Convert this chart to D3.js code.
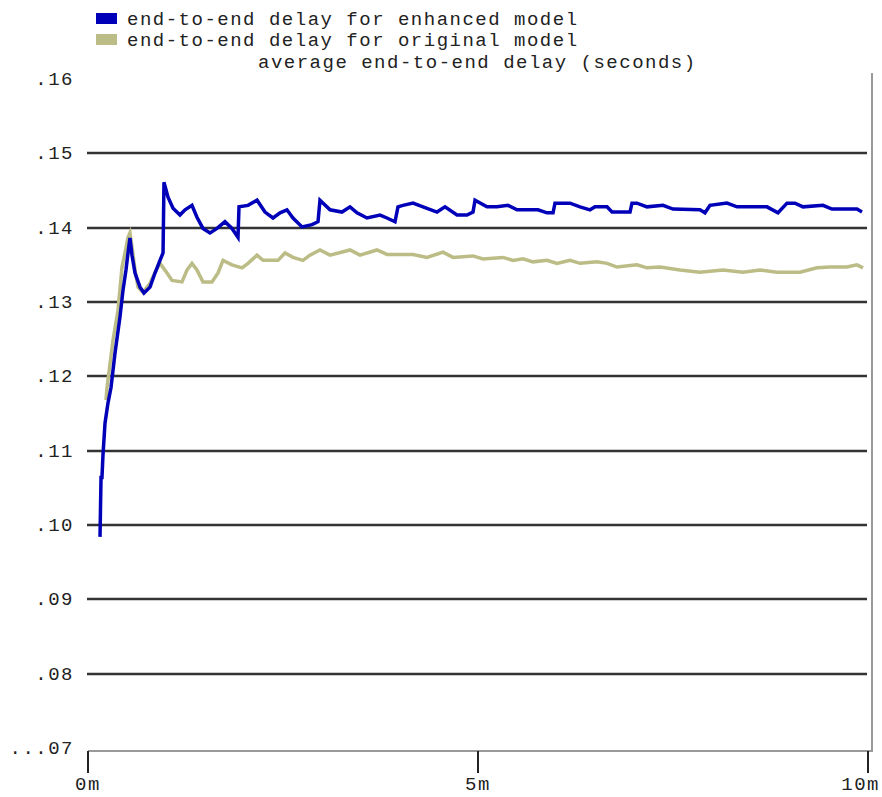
<!DOCTYPE html>
<html>
<head>
<meta charset="utf-8">
<script src="https://cdn.jsdelivr.net/npm/d3@7"></script>
<style>
  body { margin: 0; background: #fff; }
  text { font-family: "Liberation Mono", "DejaVu Sans Mono", monospace; fill: #222; }
</style>
</head>
<body>
<script>
// series names
const seriesNames = ["end-to-end delay for enhanced model", "end-to-end delay for original model"]
const chartTitle = "average end-to-end delay (seconds)"

// enhanced model (minutes, seconds)
const enhancedTime = [0.154, 0.167, 0.179, 0.192, 0.218, 0.256, 0.295, 0.346, 0.410, 0.449, 0.487, 0.513, 0.538, 0.564, 0.603, 0.667, 0.718, 0.795, 0.859, 0.923, 0.962, 0.974, 1.026, 1.090, 1.179, 1.244, 1.333, 1.397, 1.474, 1.564, 1.654, 1.756, 1.846, 1.923, 1.936, 2.051, 2.167, 2.269, 2.372, 2.462, 2.551, 2.628, 2.744, 2.872, 2.949, 2.974, 3.103, 3.256, 3.359, 3.449, 3.577, 3.744, 3.833, 3.936, 3.974, 4.038, 4.167, 4.295, 4.474, 4.577, 4.731, 4.859, 4.936, 4.962, 5.115, 5.244, 5.385, 5.5, 5.769, 5.885, 5.962, 5.987, 6.179, 6.308, 6.436, 6.5, 6.654, 6.718, 6.949, 6.974, 7.038, 7.167, 7.372, 7.5, 7.846, 7.910, 7.974, 8.192, 8.321, 8.705, 8.846, 8.962, 9.064, 9.167, 9.423, 9.538, 9.859, 9.923]
const enhancedDelay = [0.0984, 0.1064, 0.1064, 0.1094, 0.1137, 0.1164, 0.1185, 0.1231, 0.1280, 0.1316, 0.1343, 0.1366, 0.1386, 0.1363, 0.1339, 0.1320, 0.1312, 0.1320, 0.1339, 0.1356, 0.1366, 0.1461, 0.1441, 0.1426, 0.1417, 0.1424, 0.1430, 0.1414, 0.1399, 0.1393, 0.1399, 0.1408, 0.1399, 0.1387, 0.1428, 0.1430, 0.1437, 0.1421, 0.1413, 0.1420, 0.1424, 0.1413, 0.1401, 0.1404, 0.1408, 0.1437, 0.1424, 0.1421, 0.1428, 0.1420, 0.1413, 0.1417, 0.1413, 0.1408, 0.1428, 0.1430, 0.1433, 0.1428, 0.1421, 0.1428, 0.1417, 0.1417, 0.1421, 0.1437, 0.1428, 0.1428, 0.1430, 0.1424, 0.1424, 0.1420, 0.1420, 0.1433, 0.1433, 0.1428, 0.1424, 0.1428, 0.1428, 0.1421, 0.1421, 0.1433, 0.1433, 0.1428, 0.1430, 0.1425, 0.1424, 0.1420, 0.1430, 0.1433, 0.1428, 0.1428, 0.1420, 0.1433, 0.1433, 0.1428, 0.1430, 0.1425, 0.1425, 0.1421]

// original model (minutes, seconds)
const originalTime = [0.231, 0.244, 0.321, 0.385, 0.436, 0.474, 0.513, 0.538, 0.564, 0.603, 0.641, 0.705, 0.795, 0.859, 0.923, 1.013, 1.077, 1.205, 1.269, 1.333, 1.397, 1.474, 1.590, 1.667, 1.731, 1.846, 1.974, 2.051, 2.167, 2.244, 2.436, 2.526, 2.628, 2.756, 2.846, 2.974, 3.103, 3.359, 3.487, 3.705, 3.833, 4.167, 4.346, 4.551, 4.679, 4.936, 5.064, 5.321, 5.449, 5.577, 5.705, 5.885, 6.013, 6.179, 6.308, 6.526, 6.654, 6.782, 7.038, 7.167, 7.333, 7.590, 7.846, 8.141, 8.397, 8.615, 8.833, 9.128, 9.346, 9.513, 9.731, 9.859, 9.936]
const originalDelay = [0.1168, 0.1185, 0.1249, 0.1289, 0.1347, 0.1366, 0.1387, 0.1393, 0.1374, 0.1343, 0.1320, 0.1313, 0.1325, 0.1340, 0.1352, 0.1339, 0.1329, 0.1327, 0.1343, 0.1352, 0.1343, 0.1327, 0.1327, 0.1339, 0.1356, 0.1350, 0.1346, 0.1352, 0.1363, 0.1356, 0.1356, 0.1366, 0.1360, 0.1356, 0.1363, 0.1370, 0.1363, 0.1370, 0.1363, 0.1370, 0.1364, 0.1364, 0.1360, 0.1367, 0.1360, 0.1362, 0.1358, 0.1360, 0.1356, 0.1358, 0.1354, 0.1356, 0.1352, 0.1356, 0.1352, 0.1354, 0.1352, 0.1347, 0.1350, 0.1346, 0.1347, 0.1343, 0.1340, 0.1343, 0.1340, 0.1343, 0.1340, 0.1340, 0.1346, 0.1347, 0.1347, 0.1350, 0.1346]

// axis ticks
const yTicks = [0.07, 0.08, 0.09, 0.10, 0.11, 0.12, 0.13, 0.14, 0.15, 0.16]
const yTickLabels = ["...07", ".08", ".09", ".10", ".11", ".12", ".13", ".14", ".15", ".16"]
const xTicks = [0, 5, 10]
const xTickLabels = ["0m", "5m", "10m"]

const colors = ["#0000b8", "#bcbc86"]

const svg = d3.select("body").append("svg")
    .attr("width", 882)
    .attr("height", 797)

const x = d3.scaleLinear().domain([0, 10]).range([88, 868])
const y = d3.scaleLinear().domain([0.07, 0.16]).range([748, 79])

const fontSize = "19px"
const spacing = "1.5px"

// grid lines (not for the bottom and top tick)
svg.selectAll(".grid")
    .data(yTicks.filter(d => d > 0.075 && d < 0.155))
    .enter()
    .append("line")
    .attr("x1", 87)
    .attr("x2", 867)
    .attr("y1", d => Math.round(y(d)))
    .attr("y2", d => Math.round(y(d)))
    .attr("stroke", "#333")
    .attr("stroke-width", 2.5)

// y labels
svg.selectAll(".ylab")
    .data(yTicks)
    .enter()
    .append("text")
    .attr("x", 74)
    .attr("y", d => y(d) + 6)
    .attr("text-anchor", "end")
    .style("font-size", fontSize)
    .style("letter-spacing", spacing)
    .text((d, i) => yTickLabels[i])

// frame: bottom axis and right border
svg.append("line")
    .attr("x1", 88).attr("x2", 872)
    .attr("y1", 751).attr("y2", 751)
    .attr("stroke", "#999").attr("stroke-width", 2)
svg.append("line")
    .attr("x1", 872).attr("x2", 872)
    .attr("y1", 73).attr("y2", 752)
    .attr("stroke", "#999").attr("stroke-width", 2)

// x ticks
svg.selectAll(".xtick")
    .data(xTicks)
    .enter()
    .append("line")
    .attr("x1", d => x(d))
    .attr("x2", d => x(d))
    .attr("y1", 751)
    .attr("y2", 773)
    .attr("stroke", "#222")
    .attr("stroke-width", 2)

// last label pushed in so it stays inside the picture
svg.selectAll(".xlab")
    .data(xTicks)
    .enter()
    .append("text")
    .attr("x", (d, i) => i == xTicks.length - 1 ? 880 : x(d))
    .attr("y", 790)
    .attr("text-anchor", (d, i) => i == xTicks.length - 1 ? "end" : "middle")
    .style("font-size", fontSize)
    .style("letter-spacing", spacing)
    .text((d, i) => xTickLabels[i])

// lines
const line = d3.line()
    .x(d => x(d[0]))
    .y(d => y(d[1]))

const original = originalTime.map((t, i) => [t, originalDelay[i]])
const enhanced = enhancedTime.map((t, i) => [t, enhancedDelay[i]])

svg.append("path")
    .datum(original)
    .attr("d", line)
    .attr("fill", "none")
    .attr("stroke", colors[1])
    .attr("stroke-width", 3.5)

svg.append("path")
    .datum(enhanced)
    .attr("d", line)
    .attr("fill", "none")
    .attr("stroke", colors[0])
    .attr("stroke-width", 3.5)

// legend
seriesNames.forEach((name, i) => {
    svg.append("rect")
        .attr("x", 96)
        .attr("y", 13 + i * 21)
        .attr("width", 21)
        .attr("height", 11)
        .attr("fill", colors[i])
    svg.append("text")
        .attr("x", 127)
        .attr("y", 25 + i * 21)
        .style("font-size", fontSize)
        .style("letter-spacing", spacing)
        .text(name)
})

svg.append("text")
    .attr("x", 258)
    .attr("y", 68)
    .style("font-size", fontSize)
    .style("letter-spacing", spacing)
    .text(chartTitle)
</script>
</body>
</html>
